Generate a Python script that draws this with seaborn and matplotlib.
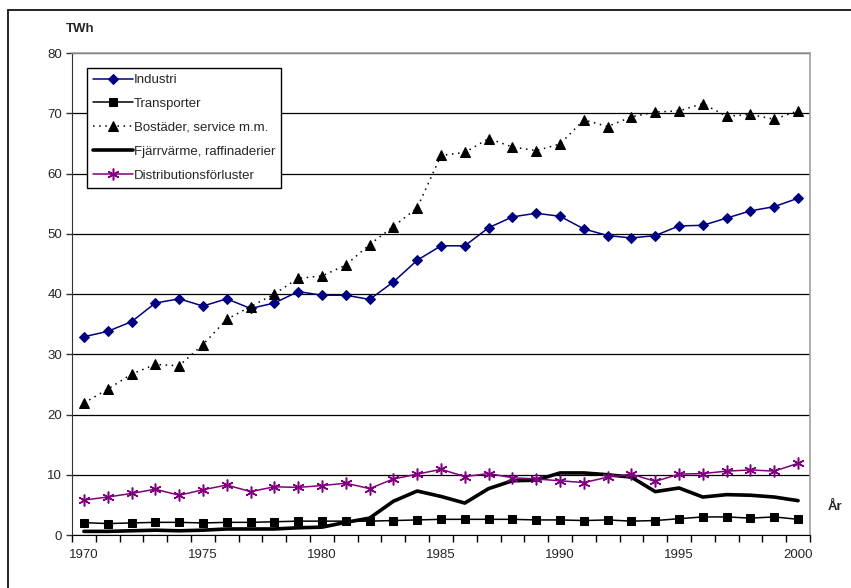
import numpy as np
import pandas as pd
import matplotlib
matplotlib.use('Agg')
import matplotlib.pyplot as plt
import seaborn as sns
from matplotlib.lines import Line2D

years = list(range(1970, 2001))

industri = [32.9, 33.8, 35.4, 38.5, 39.2, 38.0, 39.2, 37.6, 38.5, 40.4,
            39.8, 39.8, 39.1, 42.0, 45.6, 48.0, 48.0, 51.0, 52.8, 53.4,
            52.9, 50.8, 49.7, 49.3, 49.7, 51.3, 51.4, 52.6, 53.8, 54.5, 55.9]
transporter = [2.05, 1.9, 2.0, 2.1, 2.1, 2.0, 2.1, 2.1, 2.2, 2.3,
               2.3, 2.3, 2.3, 2.4, 2.5, 2.6, 2.6, 2.6, 2.6, 2.5,
               2.5, 2.4, 2.5, 2.3, 2.4, 2.7, 3.0, 3.0, 2.8, 3.0, 2.6]
bostader = [21.9, 24.2, 26.7, 28.3, 28.1, 31.6, 35.8, 37.9, 40.0, 42.6,
            43.0, 44.8, 48.2, 51.2, 54.3, 63.0, 63.5, 65.8, 64.4, 63.8,
            64.9, 68.9, 67.8, 69.4, 70.2, 70.4, 71.6, 69.5, 69.8, 69.0, 70.4]
fjarrvarme = [0.6, 0.6, 0.7, 0.8, 0.7, 0.8, 1.0, 1.0, 1.0, 1.2,
              1.3, 2.1, 2.8, 5.6, 7.3, 6.4, 5.3, 7.7, 9.0, 9.1,
              10.3, 10.3, 10.0, 9.6, 7.2, 7.8, 6.3, 6.7, 6.6, 6.3, 5.7]
distribution = [5.8, 6.3, 6.9, 7.6, 6.6, 7.5, 8.3, 7.2, 8.0, 7.9,
                8.2, 8.6, 7.7, 9.3, 10.1, 10.9, 9.7, 10.2, 9.5, 9.3,
                9.0, 8.7, 9.6, 10.1, 8.9, 10.1, 10.2, 10.6, 10.8, 10.6, 11.9]

sns.set_style('white')
plt.rcParams['font.family'] = ['Liberation Sans', 'DejaVu Sans']

W, H = 851, 588
fig = plt.figure(figsize=(W / 100, H / 100), dpi=100)
ax = fig.add_axes([72 / W, 1 - 535 / H, (810 - 72) / W, (535 - 53) / H])

# outer chart frame (partly cut off at right and bottom)
fig.add_artist(Line2D([8 / W, 8 / W], [0, 1 - 10 / H], color='black', lw=1.2, transform=fig.transFigure))
fig.add_artist(Line2D([8 / W, 1], [1 - 10 / H, 1 - 10 / H], color='black', lw=1.2, transform=fig.transFigure))

sns.lineplot(x=years, y=industri, ax=ax, color='#000080', lw=1.1, marker='D',
             markersize=5.5, markeredgecolor='#000080', label='Industri')
sns.lineplot(x=years, y=transporter, ax=ax, color='black', lw=1.1, marker='s',
             markersize=6, markeredgecolor='black', label='Transporter')
sns.lineplot(x=years, y=bostader, ax=ax, color='black', lw=1.1, marker='^',
             markersize=6.5, markeredgecolor='black', linestyle=(0, (1, 3)),
             label='Bostäder, service m.m.')
sns.lineplot(x=years, y=fjarrvarme, ax=ax, color='black', lw=2.6,
             label='Fjärrvärme, raffinaderier')
sns.lineplot(x=years, y=distribution, ax=ax, color='#800080', lw=1.1, marker=(6, 2, 0),
             markersize=8.5, markeredgewidth=1.1, markeredgecolor='#800080',
             label='Distributionsförluster')

ax.set_xlim(1969.5, 2000.5)
ax.set_ylim(0, 80)
ax.set_xticks(range(1970, 2001, 5))
ax.set_xticks(np.arange(1969.5, 2001, 1), minor=True)
ax.set_yticks(range(0, 81, 10))
ax.tick_params(axis='x', which='major', length=0, pad=10, labelsize=9.5)
ax.tick_params(axis='x', which='minor', length=5, width=1, direction='out', bottom=True, color='black')
ax.tick_params(axis='y', length=4, width=1, direction='out', left=True, labelsize=9.5, pad=3, color='#333333')
ax.grid(axis='y', color='black', lw=0.9)
ax.set_axisbelow(True)
for side in ['top', 'right']:
    ax.spines[side].set_color('#a0a0a0')
    ax.spines[side].set_linewidth(1.2)
ax.spines['left'].set_color('#333333')
ax.spines['bottom'].set_color('black')
ax.set_xlabel('')
ax.set_ylabel('')

fig.text(66 / W, 1 - 29 / H, 'TWh', fontsize=9.5, fontweight='bold', va='center', ha='left')
fig.text(828 / W, 1 - 507 / H, 'År', fontsize=9.5, fontweight='bold', va='center', ha='left')

leg = ax.legend(loc='upper left', bbox_to_anchor=((87 - 72) / (810 - 72), 1 - (68 - 53) / (535 - 53)),
                fontsize=9.5, frameon=True, fancybox=False, edgecolor='black', framealpha=1,
                borderaxespad=0, handlelength=3.0, handletextpad=0.1, labelspacing=0.88,
                borderpad=0.45)
leg.get_frame().set_linewidth(1)

fig.savefig('out.png', dpi=100)
